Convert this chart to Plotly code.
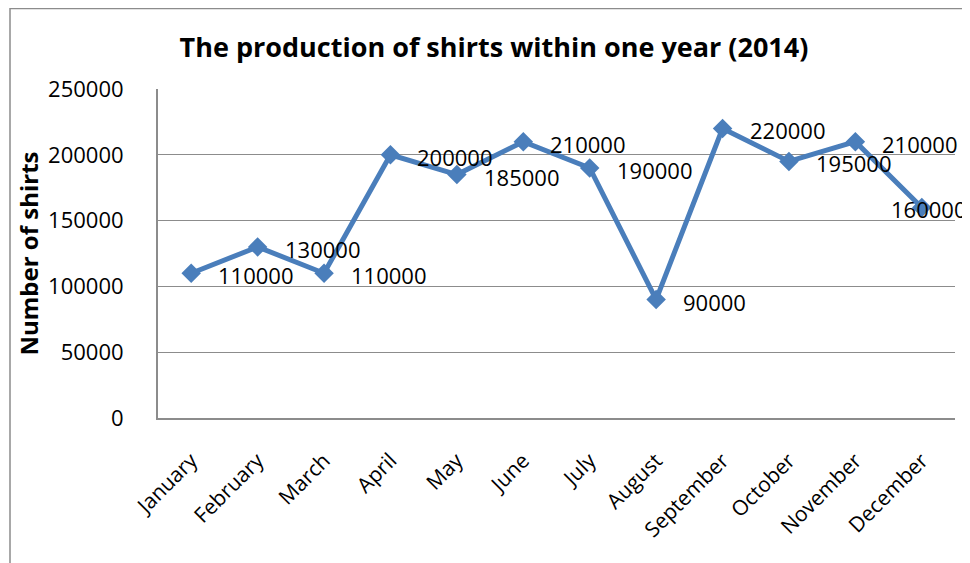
import plotly.graph_objects as go

months = ["January", "February", "March", "April", "May", "June", "July",
          "August", "September", "October", "November", "December"]
shirts = [110000, 130000, 110000, 200000, 185000, 210000, 190000,
          90000, 220000, 195000, 210000, 160000]
y_ticks = [0, 50000, 100000, 150000, 200000, 250000]

W, H = 970, 563
ML, MR, MT, MB = 150, 23, 81, 153
FONT = "Open Sans"
LINE = "#4A7EBB"

fig = go.Figure()
fig.add_trace(go.Scatter(
    x=months, y=shirts, mode="lines+markers",
    line=dict(color=LINE, width=5),
    marker=dict(symbol="diamond", size=15, color=LINE),
    hoverinfo="skip", showlegend=False,
))

for i, (m, v) in enumerate(zip(months, shirts)):
    last = i == len(months) - 1
    fig.add_annotation(
        x=m, y=v, text=str(v), showarrow=False,
        xanchor="right" if last else "left",
        xshift=46 if last else 25, yshift=-2,
        font=dict(family=FONT, size=22, color="#000"),
    )

pw = W - ML - MR
ph = H - MT - MB
def px_x(p):
    return (p - ML) / pw
def px_y(p):
    return (H - MB - p) / ph

fig.add_shape(type="rect", xref="paper", yref="paper",
              x0=px_x(2), x1=px_x(990), y0=px_y(0.5), y1=px_y(600),
              line=dict(color="#8c8c8c", width=1.5), fillcolor="rgba(0,0,0,0)",
              layer="above")

fig.update_layout(
    width=W, height=H,
    margin=dict(l=ML, r=MR, t=MT, b=MB, autoexpand=False),
    paper_bgcolor="white", plot_bgcolor="white",
    font=dict(family=FONT, color="#000"),
    title=dict(text="<b>The production of shirts within one year (2014)</b>",
               x=486 / W, xref="container", xanchor="center",
               y=1 - 40 / H, yref="container", yanchor="middle",
               font=dict(family=FONT, size=27, color="#000")),
    xaxis=dict(
        type="category", showgrid=False, zeroline=False, automargin=False,
        showline=True, linecolor="#8c8c8c", linewidth=2,
        tickangle=-45, ticks="", ticklabelstandoff=20,
        tickfont=dict(family=FONT, size=21, color="#000"),
        range=[-0.5, 11.5],
    ),
    yaxis=dict(
        range=[0, 250000], tickvals=y_ticks, automargin=False,
        ticktext=[str(t) for t in y_ticks],
        showgrid=True, gridcolor="#8c8c8c", gridwidth=1.2,
        zeroline=False, showline=True, linecolor="#8c8c8c", linewidth=2,
        ticks="", ticklabelstandoff=28,
        tickfont=dict(family=FONT, size=22, color="#000"),
        title=dict(text="<b>Number of shirts</b>", standoff=3,
                   font=dict(family=FONT, size=24, color="#000")),
    ),
)

fig.write_html("out.html")
